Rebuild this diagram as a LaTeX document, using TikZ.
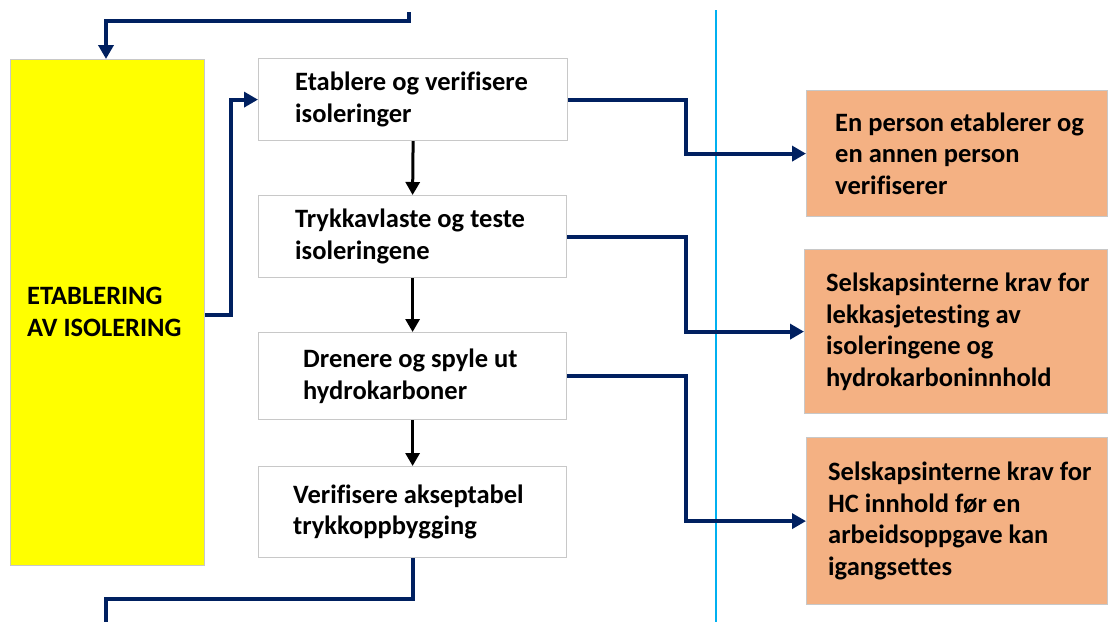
\documentclass[tikz,border=0pt]{standalone}
\usepackage{fontspec}
\setmainfont{Carlito}[Ligatures=CommonOff]
\usetikzlibrary{arrows.meta,calc}
\definecolor{navyline}{HTML}{002060}
\definecolor{peach}{HTML}{F4B183}
\definecolor{skyline}{HTML}{00B0F0}
\definecolor{boxgray}{HTML}{C8C8C8}
\definecolor{brightyellow}{HTML}{FFFF00}
\tikzset{
  box/.style={draw=boxgray, line width=1.2pt, rectangle, inner sep=0pt, anchor=north west},
  txt/.style={align=left, inner sep=0pt, anchor=west, font=\bfseries\fontsize{26.5}{31.5}\selectfont},
  nav/.style={draw=navyline, line width=4pt, -{Triangle[length=14pt,width=15pt]}},
  nav0/.style={draw=navyline, line width=4pt},
  blk/.style={draw=black, line width=3pt, -{Triangle[length=13pt,width=14pt]}},
}
\begin{document}
\begin{tikzpicture}[x=1pt,y=-1pt]
\useasboundingbox (0,0) rectangle (1108,622);

% left block
\node[box, fill=brightyellow, minimum width=194pt, minimum height=506pt] (ybox) at (10,59) {};
\node[txt] (ytxt) at (27,312) {ETABLERING\\AV ISOLERING};

% process steps
\node[box, fill=white, minimum width=309pt, minimum height=82pt] (b1) at (258,58) {};
\node[box, fill=white, minimum width=308pt, minimum height=82pt] (b2) at (258,195) {};
\node[box, fill=white, minimum width=308pt, minimum height=87pt] (b3) at (258,332) {};
\node[box, fill=white, minimum width=308pt, minimum height=91pt] (b4) at (258,466) {};
\node[txt] (t1) at ([xshift=37pt]b1.west) {Etablere og verifisere\\isoleringer};
\node[txt] (t2) at ([xshift=37pt]b2.west) {Trykkavlaste og teste\\isoleringene};
\node[txt] (t3) at ([xshift=45pt]b3.west) {Drenere og spyle ut\\hydrokarboner};
\node[txt] (t4) at ([xshift=35pt]b4.west) {Verifisere akseptabel\\trykkoppbygging};

% requirement boxes
\node[box, fill=peach, minimum width=301pt, minimum height=126pt] (p1) at (806,90) {};
\node[box, fill=peach, minimum width=303pt, minimum height=164pt] (p2) at (804,249) {};
\node[box, fill=peach, minimum width=301pt, minimum height=167pt] (p3) at (806,437) {};
\node[txt] (q1) at ([xshift=29pt]p1.west) {En person etablerer og\\en annen person\\verifiserer};
\node[txt] (q2) at ([xshift=22pt]p2.west) {Selskapsinterne krav for\\lekkasjetesting av\\isoleringene og\\hydrokarboninnhold};
\node[txt] (q3) at ([xshift=22pt]p3.west) {Selskapsinterne krav for\\HC innhold før en\\arbeidsoppgave kan\\igangsettes};

% divider
\coordinate (c1) at (716,10);
\coordinate (c2) at (716,622);
\draw[skyline, line width=2.5pt] (c1) -- (c2);

% helper columns
\coordinate (xl) at (106,0);
\coordinate (xm) at (231,0);
\coordinate (xr) at (686,0);
\coordinate (topin) at (409,12);
\coordinate (botout) at (106,622);

% loop in and out
\draw[nav] (topin) -- ++(0,9) -| (ybox.north -| xl);
\draw[nav0] (b4.south) -- ++(0,41) -| (botout);

% yellow block to first step
\draw[nav] ([yshift=-2pt]ybox.east) -- ([yshift=-2pt]ybox.east -| xm) |- (b1.west);

% step sequence
\draw[blk] (b1.south) -- (b2.north);
\draw[blk] (b2.south) -- (b3.north);
\draw[blk] (b3.south) -- (b4.north);

% steps to requirements
\draw[nav] (b1.east) -- (b1.east -| xr) |- (p1.west);
\draw[nav] (b2.east) -- (b2.east -| xr) |- (p2.west);
\draw[nav] (b3.east) -- (b3.east -| xr) |- (p3.west);
\end{tikzpicture}
\end{document}
